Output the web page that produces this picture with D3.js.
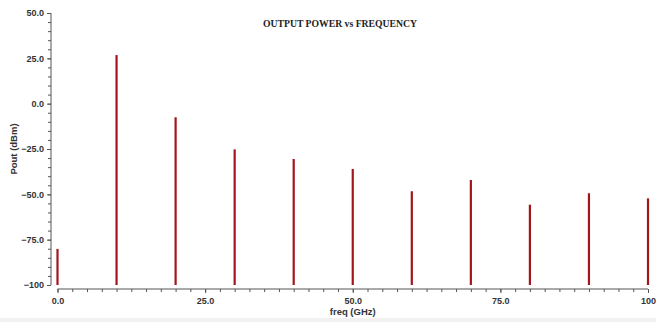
<!DOCTYPE html>
<html>
<head>
<meta charset="utf-8">
<script src="https://cdn.jsdelivr.net/npm/d3@7"></script>
<style>
  html, body { margin: 0; padding: 0; background: #fff; }
  svg { display: block; }
  .tick text { font-family: "Liberation Sans", Arial, sans-serif; font-size: 9px; font-weight: bold; fill: #333; }
</style>
</head>
<body>
<svg id="chart" width="656" height="322"></svg>
<script>
// Harmonic output power spectrum
const freqs = [0, 10, 20, 30, 40, 50, 60, 70, 80, 90, 100];          // GHz
const pout  = [-80.1, 26.8, -7.5, -25.2, -30.5, -36.0, -48.3, -42.1, -55.7, -49.4, -52.2]; // dBm
const yTickValues = [-100, -75, -50, -25, 0, 25, 50];
const yTickLabels = ["\u2212100", "\u221275.0", "\u221250.0", "\u221225.0", "0.0", "25.0", "50.0"];
const xTickValues = [0, 25, 50, 75, 100];
const xTickLabels = ["0.0", "25.0", "50.0", "75.0", "100"];

const svg = d3.select("#chart");
const W = 656, H = 322;

// light band along the bottom edge
svg.append("rect").attr("x", 0).attr("y", 318).attr("width", W).attr("height", H - 318).attr("fill", "#f1f1f1");

const x = d3.scaleLinear().domain([0, 100]).range([57.5, 648]);
const y = d3.scaleLinear().domain([-100, 50]).range([285, 13]);

const axisColor = "#555";

// y axis (offset to the left of the plot)
const yAxisX = 51;
const gy = svg.append("g").attr("transform", `translate(${yAxisX},0)`);
gy.call(d3.axisLeft(y).tickValues(d3.range(-100, 50.01, 5)).tickSize(3).tickFormat(""));
gy.call(g => g.select(".domain").remove());
gy.append("line").attr("x1", 0).attr("x2", 0).attr("y1", y(50)).attr("y2", y(-100)).attr("stroke", axisColor);
const gyMaj = svg.append("g").attr("transform", `translate(${yAxisX},0)`)
  .call(d3.axisLeft(y).tickValues(yTickValues).tickSize(4).tickPadding(3)
    .tickFormat((d, i) => yTickLabels[i]));
gyMaj.select(".domain").remove();
[gy, gyMaj].forEach(g => g.selectAll(".tick line").attr("stroke", axisColor));

// x axis (offset below the plot)
const xAxisY = 289;
const gx = svg.append("g").attr("transform", `translate(0,${xAxisY})`);
gx.call(d3.axisBottom(x).tickValues(d3.range(0, 100.01, 2.5)).tickSize(3).tickFormat(""));
gx.select(".domain").remove();
gx.append("line").attr("x1", x(0)).attr("x2", x(100)).attr("y1", 0).attr("y2", 0).attr("stroke", axisColor);
const gxMaj = svg.append("g").attr("transform", `translate(0,${xAxisY})`)
  .call(d3.axisBottom(x).tickValues(xTickValues).tickSize(4).tickPadding(5)
    .tickFormat((d, i) => xTickLabels[i]));
gxMaj.select(".domain").remove();
[gx, gxMaj].forEach(g => g.selectAll(".tick line").attr("stroke", axisColor));

// spectral lines
svg.append("g").selectAll("line.bar")
  .data(freqs)
  .join("line")
  .attr("class", "bar")
  .attr("x1", d => x(d)).attr("x2", d => x(d))
  .attr("y1", y(-100))
  .attr("y2", (d, i) => y(pout[i]))
  .attr("stroke", "#a3141b")
  .attr("stroke-width", 2.2);

// axis titles
svg.append("text")
  .attr("x", x(50)).attr("y", 315)
  .attr("text-anchor", "middle")
  .style("font-family", "Liberation Sans, Arial, sans-serif")
  .style("font-size", "9.5px").style("font-weight", "bold").style("fill", "#333")
  .text("freq (GHz)");

svg.append("text")
  .attr("transform", `translate(17,${y(-25)}) rotate(-90)`)
  .attr("text-anchor", "middle")
  .style("font-family", "Liberation Sans, Arial, sans-serif")
  .style("font-size", "9.5px").style("font-weight", "bold").style("fill", "#333")
  .text("Pout (dBm)");

// title
svg.append("text")
  .attr("x", 340).attr("y", 27)
  .attr("text-anchor", "middle")
  .style("font-family", "Liberation Serif, Times New Roman, serif")
  .style("font-size", "9.7px").style("font-weight", "bold").style("fill", "#222")
  .text("OUTPUT POWER vs FREQUENCY");
</script>
</body>
</html>
